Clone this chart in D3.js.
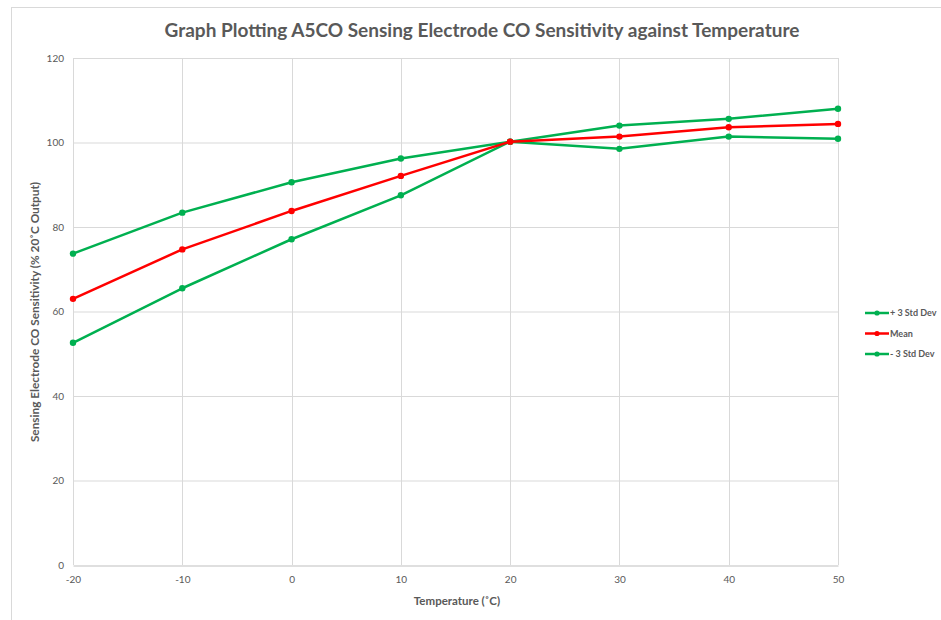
<!DOCTYPE html>
<html><head><meta charset="utf-8">
<script src="https://cdn.jsdelivr.net/npm/d3@7"></script>
<style>body{margin:0;background:#fff}svg{display:block}text{font-family:Lato,"Open Sans",sans-serif}</style>
</head><body>
<svg id="c" width="941" height="620"></svg>
<script>
const temperatures = [-20, -10, 0, 10, 20, 30, 40, 50];
const plus3Std = [73.7, 83.4, 90.6, 96.2, 100.2, 104.0, 105.6, 108.0];
const meanVals = [63.0, 74.7, 83.8, 92.1, 100.2, 101.4, 103.6, 104.4];
const minus3Std = [52.6, 65.5, 77.1, 87.5, 100.2, 98.5, 101.4, 100.9];
const xTicks = [-20, -10, 0, 10, 20, 30, 40, 50];
const yTicks = [0, 20, 40, 60, 80, 100, 120];
const seriesNames = ["+ 3 Std Dev", "Mean", "- 3 Std Dev"];
const seriesColors = ["#00b050", "#ff0000", "#00b050"];
const titleText = "Graph Plotting A5CO Sensing Electrode CO Sensitivity against Temperature";
const xTitle = "Temperature (\u02daC)";
const yTitle = "Sensing Electrode CO Sensitivity (% 20\u02daC Output)";

const svg = d3.select("#c");
const L = 73, R = 838, T = 58, B = 565;
const x = d3.scaleLinear().domain([-20, 50]).range([L, R]);
const y = d3.scaleLinear().domain([0, 120]).range([B, T]);

// frame
svg.append("rect").attr("x", 11.5).attr("y", 7.5).attr("width", 960).attr("height", 700)
  .attr("fill", "#fff").attr("stroke", "#d9d9d9").attr("stroke-width", 1);

// gridlines
svg.append("g").selectAll("line").data(yTicks.filter(d => d > 0)).join("line")
  .attr("x1", L).attr("x2", R).attr("y1", d => y(d) + 0.5).attr("y2", d => y(d) + 0.5)
  .attr("stroke", "#d9d9d9").attr("stroke-width", 1);
svg.append("g").selectAll("line").data(xTicks).join("line")
  .attr("y1", T).attr("y2", B).attr("x1", d => Math.round(x(d)) + 0.5).attr("x2", d => Math.round(x(d)) + 0.5)
  .attr("stroke", "#d9d9d9").attr("stroke-width", 1);

// x axis
const xa = svg.append("g").attr("transform", `translate(0,${B + 0.5})`)
  .call(d3.axisBottom(x).tickValues(xTicks).tickFormat(d => String(d)).tickSize(0).tickPadding(10));
xa.select(".domain").attr("stroke", "#bfbfbf").attr("stroke-width", 1);
xa.selectAll("text").attr("fill", "#595959").style("font-size", "10px").style("font-family", "Lato, sans-serif");

// y axis
const ya = svg.append("g").attr("transform", `translate(${L},0)`)
  .call(d3.axisLeft(y).tickValues(yTicks).tickFormat(d => String(d)).tickSize(0).tickPadding(9));
ya.select(".domain").remove();
ya.selectAll("text").attr("fill", "#595959").style("font-size", "10px").style("font-family", "Lato, sans-serif");

// lines
const allSeries = [plus3Std, meanVals, minus3Std];
const line = d3.line().x((d, i) => x(temperatures[i])).y(d => y(d));
const order = [0, 2, 1];
order.forEach(si => {
  const vals = allSeries[si];
  svg.append("path").datum(vals).attr("d", line).attr("fill", "none")
    .attr("stroke", seriesColors[si]).attr("stroke-width", 2.5).attr("stroke-linejoin", "round");
  svg.append("g").selectAll("circle").data(vals).join("circle")
    .attr("cx", (d, i) => x(temperatures[i])).attr("cy", d => y(d)).attr("r", 3.2)
    .attr("fill", seriesColors[si]);
});

// title
svg.append("text").attr("x", 482).attr("y", 37).attr("text-anchor", "middle")
  .attr("fill", "#595959").style("font-size", "19px").style("font-weight", "bold").text(titleText);

// axis titles
svg.append("text").attr("x", 457).attr("y", 605).attr("text-anchor", "middle")
  .attr("fill", "#595959").style("font-size", "11.5px").style("font-weight", "bold").text(xTitle);
svg.append("text").attr("transform", "translate(39,312) rotate(-90)").attr("text-anchor", "middle")
  .attr("fill", "#595959").style("font-size", "11.8px").style("font-weight", "bold").text(yTitle);

// legend
const lg = svg.append("g");
seriesNames.forEach((n, i) => {
  const yy = 313 + i * 20.5;
  lg.append("line").attr("x1", 865).attr("x2", 889).attr("y1", yy).attr("y2", yy)
    .attr("stroke", seriesColors[i]).attr("stroke-width", 2.5);
  lg.append("circle").attr("cx", 877).attr("cy", yy).attr("r", 2.6).attr("fill", seriesColors[i]);
  lg.append("text").attr("x", 890).attr("y", yy + 3.3).attr("fill", "#595959")
    .style("font-size", "9px").style("font-weight", "bold").text(n);
});
</script>
</body></html>
